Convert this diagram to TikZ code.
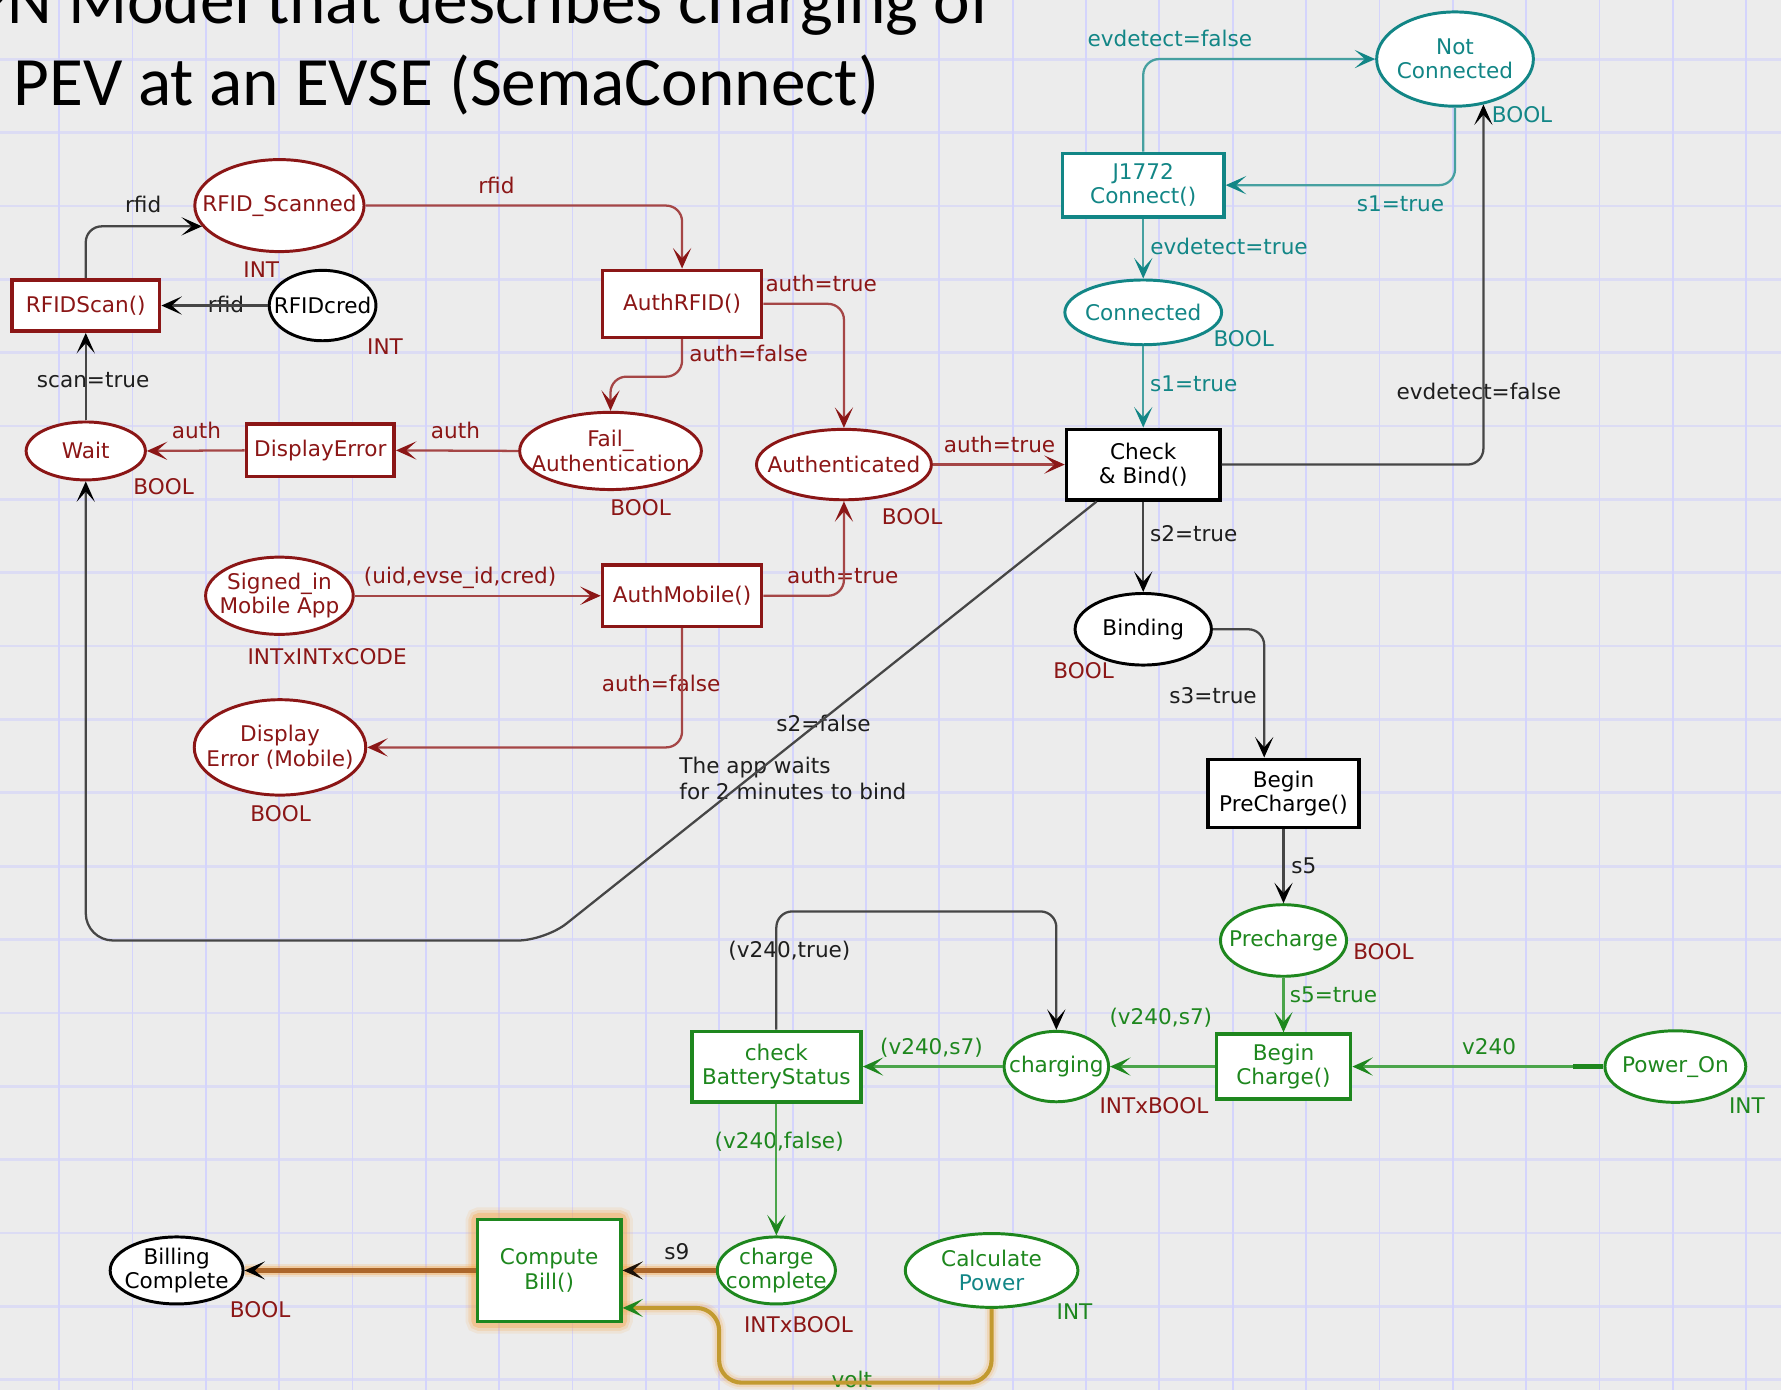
\documentclass[tikz,border=0pt]{standalone}
\usepackage{fontspec}
\setmainfont{DejaVu Sans}
\newfontfamily\titlefont{Carlito}
\usetikzlibrary{arrows.meta,calc,shapes.geometric}
\definecolor{pnred}{RGB}{139,22,22}
\definecolor{pnredl}{RGB}{165,70,70}
\definecolor{pnteal}{RGB}{18,134,134}
\definecolor{pntealL}{RGB}{70,160,160}
\definecolor{pngreen}{RGB}{30,135,30}
\definecolor{pngreenL}{RGB}{75,165,75}
\definecolor{pnblk}{RGB}{30,30,30}
\definecolor{pnblkL}{RGB}{70,70,70}
\definecolor{bgc}{RGB}{236,236,236}
\definecolor{gridh}{RGB}{220,220,244}
\definecolor{gridv}{RGB}{212,212,252}
\definecolor{glowc}{RGB}{246,165,70}
\definecolor{brownl}{RGB}{172,102,42}
\definecolor{olivel}{RGB}{194,154,48}
\newcommand\pnfont{\fontsize{19}{21.5}\selectfont}
\pgfdeclarelayer{back}
\pgfdeclarelayer{glowl}
\pgfsetlayers{back,glowl,main}
\begin{document}
\begin{tikzpicture}[x=1pt,y=-1pt,
  place/.style={ellipse, draw=#1, fill=white, line width=2.6pt, inner sep=0pt},
  ptext/.style={font=\pnfont, text=#1, align=center, inner sep=0pt},
  trans/.style={rectangle, draw=#1, fill=white, line width=3.2pt, inner sep=0pt, font=\pnfont, text=#1, align=center},
  elab/.style={font=\pnfont, text=#1, inner sep=0pt, text height=13.9pt, text depth=0pt},
  pntip/.style={-{Stealth[length=18pt,width=16pt,inset=9pt,color=#1]}},
  ered/.style={draw=pnredl, line width=2pt, rounded corners=14pt, pntip=pnred},
  etl/.style={draw=pntealL, line width=2pt, rounded corners=14pt, pntip=pnteal},
  egr/.style={draw=pngreenL, line width=2pt, rounded corners=14pt, pntip=pngreen},
  eblk/.style={draw=pnblkL, line width=2pt, rounded corners=14pt, pntip=black},
  titl/.style={inner sep=0pt, font=\titlefont\fontsize{61}{70}\selectfont, text=black}
]
\useasboundingbox (0,0) rectangle (1568,1224);
\begin{pgfonlayer}{back}
\fill[bgc] (0,0) rectangle (1568,1224);
\foreach \k in {0,...,18} \draw[gridh, line width=2.4pt] (0,52.2+64.58*\k) -- (1568,52.2+64.58*\k);
\foreach \k in {0,...,23} \draw[gridv, line width=1.6pt] (52+64.58*\k,0) -- (52+64.58*\k,1224);
\end{pgfonlayer}

% title
\node[titl, anchor=base east] (t1) at (873,21) {PN Model that describes charging of};
\node[titl, anchor=base west] (t2) at (12,93) {PEV at an EVSE (SemaConnect)};

% red part
\node[place=pnred, minimum width=149pt, minimum height=81pt, label={[ptext=pnred]center:RFID\_Scanned}] (RS) at (246,181) {};
\node[place=black, minimum width=94pt, minimum height=62pt, label={[ptext=black]center:RFIDcred}] (RC) at (284,269) {};
\node[trans=pnred, minimum width=130pt, minimum height=45pt] (RSC) at (75.5,269) {RFIDScan()};
\node[trans=pnred, minimum width=140pt, minimum height=59pt] (AR) at (600.5,267.5) {AuthRFID()};
\node[place=pnred, minimum width=105pt, minimum height=51pt, label={[ptext=pnred]center:Wait}] (W) at (75.5,397) {};
\node[trans=pnred, minimum width=130pt, minimum height=46pt] (DE) at (282,396.5) {DisplayError};
\node[place=pnred, minimum width=160pt, minimum height=68pt, label={[ptext=pnred]center:Fail\_\\Authentication}] (FA) at (537.5,397) {};
\node[place=pnred, minimum width=154pt, minimum height=62pt, label={[ptext=pnred]center:Authenticated}] (AU) at (743,409) {};
\node[place=pnred, minimum width=130pt, minimum height=68pt, label={[ptext=pnred]center:Signed\_in\\Mobile App}] (SI) at (246,524.5) {};
\node[trans=pnred, minimum width=140pt, minimum height=54pt] (AM) at (600.5,524.5) {AuthMobile()};
\node[place=pnred, minimum width=151pt, minimum height=84pt, label={[ptext=pnred]center:Display\\Error (Mobile)}] (DM) at (246.5,658) {};

% teal part
\node[place=pnteal, minimum width=138pt, minimum height=83pt, label={[ptext=pnteal]center:Not\\Connected}] (NC) at (1281,52) {};
\node[trans=pnteal, minimum width=142pt, minimum height=56pt] (J) at (1006.5,163) {J1772\\Connect()};
\node[place=pnteal, minimum width=138pt, minimum height=57pt, label={[ptext=pnteal]center:Connected}] (CO) at (1006.5,275) {};

% black part
\node[trans=black, minimum width=135pt, minimum height=62pt] (CB) at (1006.5,409) {Check\\\& Bind()};
\node[place=black, minimum width=120pt, minimum height=63pt, label={[ptext=black]center:Binding}] (BI) at (1006.5,554) {};
\node[trans=black, minimum width=133pt, minimum height=60pt] (BP) at (1130,698.5) {Begin\\PreCharge()};
\node[place=black, minimum width=117pt, minimum height=59pt, label={[ptext=black]center:Billing\\Complete}] (BL) at (155.5,1118.5) {};

% green part
\node[place=pngreen, minimum width=111pt, minimum height=63pt, label={[ptext=pngreen]center:Precharge}] (PC) at (1130,828) {};
\node[trans=pngreen, minimum width=118pt, minimum height=57pt] (BG) at (1130,939) {Begin\\Charge()};
\node[place=pngreen, minimum width=92pt, minimum height=62pt, label={[ptext=pngreen]center:charging}] (CH) at (930,939) {};
\node[trans=pngreen, minimum width=149pt, minimum height=62pt] (CBS) at (683.5,939) {check\\BatteryStatus};
\node[place=pngreen, minimum width=124pt, minimum height=63pt, label={[ptext=pngreen]center:Power\_On}] (PO) at (1475,939) {};
\node[place=pngreen, minimum width=104pt, minimum height=59pt, label={[ptext=pngreen]center:charge\\complete}] (CC) at (683.5,1118.5) {};
\node[place=pngreen, minimum width=152pt, minimum height=65pt, label={[ptext=pngreen]center:Calculate\\{\color{pnteal}Power}}] (CP) at (873,1118.5) {};
\node[trans=pngreen, minimum width=126pt, minimum height=90pt] (CBL) at (483.5,1118.5) {Compute\\Bill()};

% type labels
\node[elab=pnred] (ty1) at (230,237) {INT};
\node[elab=pnred] (ty2) at (339,305) {INT};
\node[elab=pnred] (ty3) at (144,428) {BOOL};
\node[elab=pnred] (ty4) at (564,447) {BOOL};
\node[elab=pnred] (ty5) at (803,455) {BOOL};
\node[elab=pnred] (ty6) at (288,578) {INTxINTxCODE};
\node[elab=pnred] (ty7) at (247,716) {BOOL};
\node[elab=pnteal] (ty8) at (1340,101) {BOOL};
\node[elab=pnteal] (ty9) at (1095,298) {BOOL};
\node[elab=pnred] (ty10) at (954,590) {BOOL};
\node[elab=pnred] (ty11) at (1218,838) {BOOL};
\node[elab=pnred] (ty12) at (1016,973) {INTxBOOL};
\node[elab=pngreen] (ty13) at (1538,973) {INT};
\node[elab=pnred] (ty14) at (703,1166) {INTxBOOL};
\node[elab=pngreen] (ty15) at (946,1155) {INT};
\node[elab=pnred] (ty16) at (229,1153) {BOOL};

% edge labels
\node[elab=pnblk] (e1) at (126,180) {rfid};
\node[elab=pnblk] (e2) at (199,268) {rfid};
\node[elab=pnblk] (e3) at (82,334) {scan=true};
\node[elab=pnred] (e4) at (437,163) {rfid};
\node[elab=pnred] (e5) at (723,250) {auth=true};
\node[elab=pnred] (e6) at (659,311) {auth=false};
\node[elab=pnred] (e7) at (401,379) {auth};
\node[elab=pnred] (e8) at (173,379) {auth};
\node[elab=pnred] (e9) at (880,391) {auth=true};
\node[elab=pnred] (e10) at (405,507) {(uid,evse\_id,cred)};
\node[elab=pnred] (e11) at (742,507) {auth=true};
\node[elab=pnred] (e12) at (582,602) {auth=false};
\node[elab=pnteal] (e13) at (1030,34) {evdetect=false};
\node[elab=pnteal] (e14) at (1233,179) {s1=true};
\node[elab=pnteal] (e15) at (1082,217) {evdetect=true};
\node[elab=pnteal] (e16) at (1051,338) {s1=true};
\node[elab=pnblk] (e17) at (1302,345) {evdetect=false};
\node[elab=pnblk] (e18) at (1051,470) {s2=true};
\node[elab=pnblk] (e19) at (1068,612) {s3=true};
\node[elab=pnblk] (e20) at (1148,762) {s5};
\node[elab=pnblk] (e21) at (725,637) {s2=false};
\node[font=\fontsize{19}{23}\selectfont, text=pnblk, align=left, inner sep=0pt, anchor=west] (note) at (598,685.5) {The app waits\\for 2 minutes to bind};
\node[elab=pnblk] (e22) at (695,836) {(v240,true)};
\node[elab=pngreen] (e23) at (1022,895) {(v240,s7)};
\node[elab=pngreen] (e24) at (820,921) {(v240,s7)};
\node[elab=pngreen] (e25) at (1311,921) {v240};
\node[elab=pngreen] (e26) at (1174,876) {s5=true};
\node[elab=pngreen] (e27) at (686,1004) {(v240,false)};
\node[elab=pnblk] (e28) at (596,1102) {s9};
\node[elab=pngreen] (e29) at (750,1215) {volt};

% black connectors
\draw[eblk] (RSC.north) |- (RS.195);
\draw[eblk] (RC.west) -- (RSC.east);
\draw[eblk] (W.north) -- (RSC.south);
\draw[eblk, rounded corners=24pt] ($(CB.south west)+(28,0)$) -- (480,828) -- (75.5,828) -- (W.south);
\draw[eblk] (CB.east) -| (NC.302);
\draw[eblk] (CB.south) -- (BI.north);
\draw[eblk] (BI.east) -| ($(BP.north)+(-17,0)$);
\draw[eblk] (BP.south) -- (PC.north);
\draw[eblk] (CBS.north) -- ++(0,-104) -| (CH.north);

% red connectors
\draw[ered] (RS.east) -| (AR.north);
\draw[ered] (AR.east) -| (AU.north);
\draw[ered] (AR.south) -- ++(0,33) -| (FA.north);
\draw[ered] (FA.west) -- (DE.east);
\draw[ered] (DE.west) -- (W.east);
\draw[ered] (AU.east) -- (CB.west);
\draw[ered] (SI.east) -- (AM.west);
\draw[ered] (AM.east) -| (AU.south);
\draw[ered] (AM.south) |- (DM.east);

% teal connectors
\draw[etl] (J.north) |- (NC.west);
\draw[etl] (NC.south) |- (J.east);
\draw[etl] (J.south) -- (CO.north);
\draw[etl] (CO.south) -- (CB.north);

% green connectors
\draw[egr] (PC.south) -- (BG.north);
\draw[egr] (PO.west) -- (BG.east);
\draw[draw=pngreen, line width=4pt] (PO.west) -- ++(-27,0);
\draw[egr] (BG.west) -- (CH.east);
\draw[egr] (CH.west) -- (CBS.east);
\draw[egr] (CBS.south) -- (CC.north);

% orange connectors with glow
\begin{pgfonlayer}{glowl}
\foreach \w/\o in {18/0.12,13/0.2,8/0.35}{
  \draw[glowc, line width=\w pt, opacity=\o, rounded corners=3pt] (CBL.south west) rectangle (CBL.north east);
}
\foreach \w/\o in {12/0.18,8/0.35}{
  \draw[glowc, line width=\w pt, opacity=\o] (CC.west) -- (CBL.east);
  \draw[glowc, line width=\w pt, opacity=\o] (CBL.west) -- (BL.east);
  \draw[glowc, line width=\w pt, opacity=0.6*\o, rounded corners=20pt] (CP.south) -- ++(0,65) -| ($(CBL.east)+(85,33)$) -- ($(CBL.east)+(0,33)$);
}
\end{pgfonlayer}
\draw[draw=brownl, line width=4pt, -{Stealth[length=18pt,width=16pt,inset=9pt,color=black!85!brown]}] (CC.west) -- (CBL.east);
\draw[draw=brownl, line width=4pt, -{Stealth[length=18pt,width=16pt,inset=9pt,color=black]}] (CBL.west) -- (BL.east);
\draw[draw=olivel, line width=3.6pt, rounded corners=20pt, pntip=pngreen] (CP.south) -- ++(0,65) -| ($(CBL.east)+(85,33)$) -- ($(CBL.east)+(0,33)$);
\end{tikzpicture}
\end{document}
